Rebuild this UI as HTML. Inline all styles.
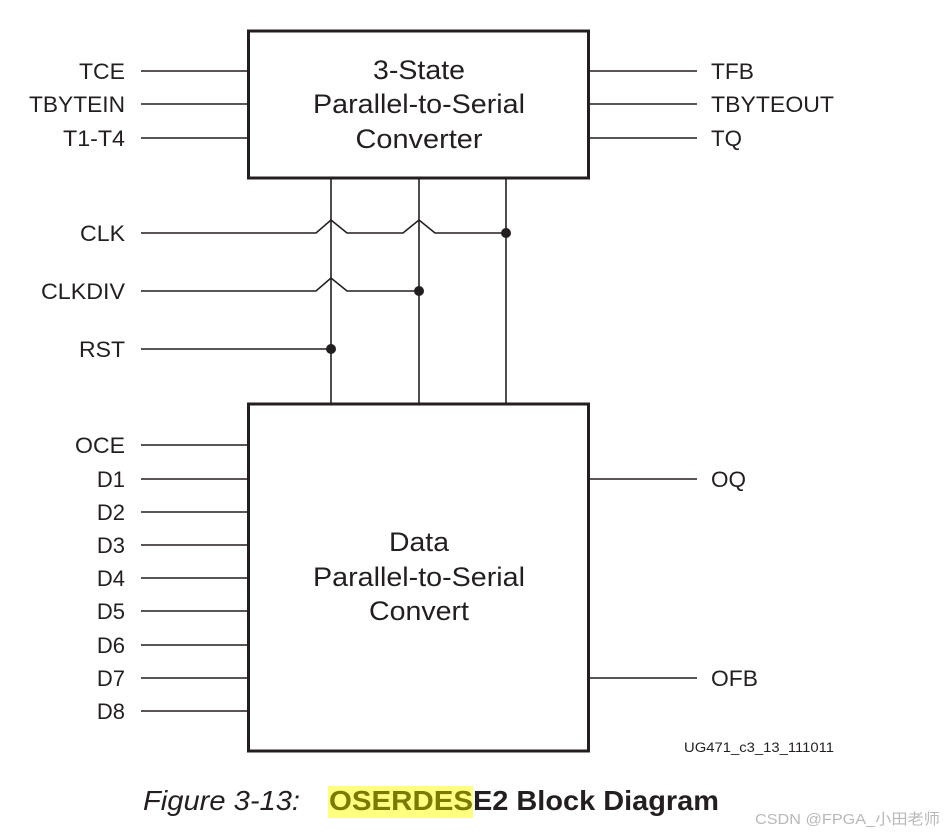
<!DOCTYPE html>
<html><head><meta charset="utf-8"><style>
html,body{margin:0;padding:0;background:#fff;}
svg{display:block;}
text{font-family:"Liberation Sans",Arial,sans-serif;fill:#231f20;}
</style></head><body>
<svg width="945" height="834" viewBox="0 0 945 834" xmlns="http://www.w3.org/2000/svg">
<g stroke="#231f20" fill="none">
<rect x="248.5" y="31" width="340" height="147" stroke-width="3"/>
<rect x="248.5" y="404" width="340" height="347" stroke-width="3"/>
<g stroke-width="1.6">
<line x1="141" y1="71" x2="248" y2="71"/>
<line x1="141" y1="104" x2="248" y2="104"/>
<line x1="141" y1="138" x2="248" y2="138"/>
<line x1="589" y1="71" x2="697" y2="71"/>
<line x1="589" y1="104" x2="697" y2="104"/>
<line x1="589" y1="138" x2="697" y2="138"/>
<line x1="589" y1="479" x2="697" y2="479"/>
<line x1="589" y1="678" x2="697" y2="678"/>
<line x1="141" y1="445" x2="248" y2="445"/>
<line x1="141" y1="479" x2="248" y2="479"/>
<line x1="141" y1="512" x2="248" y2="512"/>
<line x1="141" y1="545" x2="248" y2="545"/>
<line x1="141" y1="578" x2="248" y2="578"/>
<line x1="141" y1="611" x2="248" y2="611"/>
<line x1="141" y1="645" x2="248" y2="645"/>
<line x1="141" y1="678" x2="248" y2="678"/>
<line x1="141" y1="711" x2="248" y2="711"/>
<line x1="331" y1="178" x2="331" y2="404"/>
<line x1="419" y1="178" x2="419" y2="404"/>
<line x1="506" y1="178" x2="506" y2="404"/>
<polyline points="141,233 316,233 331,220 347,233 403,233 419,220 435,233 506,233"/>
<polyline points="141,291 316,291 331,278 347,291 419,291"/>
<line x1="141" y1="349" x2="331" y2="349"/>
</g>
</g>
<g fill="#231f20">
<circle cx="506" cy="233" r="5"/>
<circle cx="419" cy="291" r="5"/>
<circle cx="331" cy="349" r="5"/>
</g>
<g font-size="22" text-anchor="end">
<text x="125" y="79" textLength="46" lengthAdjust="spacingAndGlyphs">TCE</text>
<text x="125" y="112" textLength="96" lengthAdjust="spacingAndGlyphs">TBYTEIN</text>
<text x="125" y="146" textLength="62" lengthAdjust="spacingAndGlyphs">T1-T4</text>
<text x="125" y="241" textLength="45" lengthAdjust="spacingAndGlyphs">CLK</text>
<text x="125" y="299" textLength="84" lengthAdjust="spacingAndGlyphs">CLKDIV</text>
<text x="125" y="357" textLength="46" lengthAdjust="spacingAndGlyphs">RST</text>
<text x="125" y="453" textLength="50" lengthAdjust="spacingAndGlyphs">OCE</text>
<text x="125" y="487">D1</text>
<text x="125" y="520">D2</text>
<text x="125" y="553">D3</text>
<text x="125" y="586">D4</text>
<text x="125" y="619">D5</text>
<text x="125" y="653">D6</text>
<text x="125" y="686">D7</text>
<text x="125" y="719">D8</text>
</g>
<g font-size="22">
<text x="711" y="79" textLength="43" lengthAdjust="spacingAndGlyphs">TFB</text>
<text x="711" y="112" textLength="123" lengthAdjust="spacingAndGlyphs">TBYTEOUT</text>
<text x="711" y="146" textLength="31" lengthAdjust="spacingAndGlyphs">TQ</text>
<text x="711" y="487" textLength="35" lengthAdjust="spacingAndGlyphs">OQ</text>
<text x="711" y="686" textLength="47" lengthAdjust="spacingAndGlyphs">OFB</text>
</g>
<g font-size="26.5" text-anchor="middle">
<text x="419" y="79" textLength="92" lengthAdjust="spacingAndGlyphs">3-State</text>
<text x="419" y="113" textLength="212" lengthAdjust="spacingAndGlyphs">Parallel-to-Serial</text>
<text x="419" y="148" textLength="127" lengthAdjust="spacingAndGlyphs">Converter</text>
<text x="419" y="551" textLength="60" lengthAdjust="spacingAndGlyphs">Data</text>
<text x="419" y="586" textLength="212" lengthAdjust="spacingAndGlyphs">Parallel-to-Serial</text>
<text x="419" y="620" textLength="100" lengthAdjust="spacingAndGlyphs">Convert</text>
</g>
<text x="684" y="752" font-size="13.5" textLength="150" lengthAdjust="spacingAndGlyphs">UG471_c3_13_111011</text>
<rect x="328" y="786" width="145" height="32" fill="#ffff80"/>
<text x="143" y="810" font-size="28" font-style="italic" textLength="157" lengthAdjust="spacingAndGlyphs">Figure 3-13:</text>
<text x="329" y="810" font-size="28" font-weight="bold" fill="#7a7a00" style="fill:#7a7a00" textLength="144" lengthAdjust="spacingAndGlyphs">OSERDES</text>
<text x="473" y="810" font-size="28" font-weight="bold" textLength="246" lengthAdjust="spacingAndGlyphs">E2 Block Diagram</text>
<text x="755" y="824" font-size="15" style="fill:#b8b8b8;font-family:'Liberation Sans','Noto Sans CJK SC',sans-serif" textLength="185" lengthAdjust="spacingAndGlyphs">CSDN @FPGA_小田老师</text>
</svg>
</body></html>
